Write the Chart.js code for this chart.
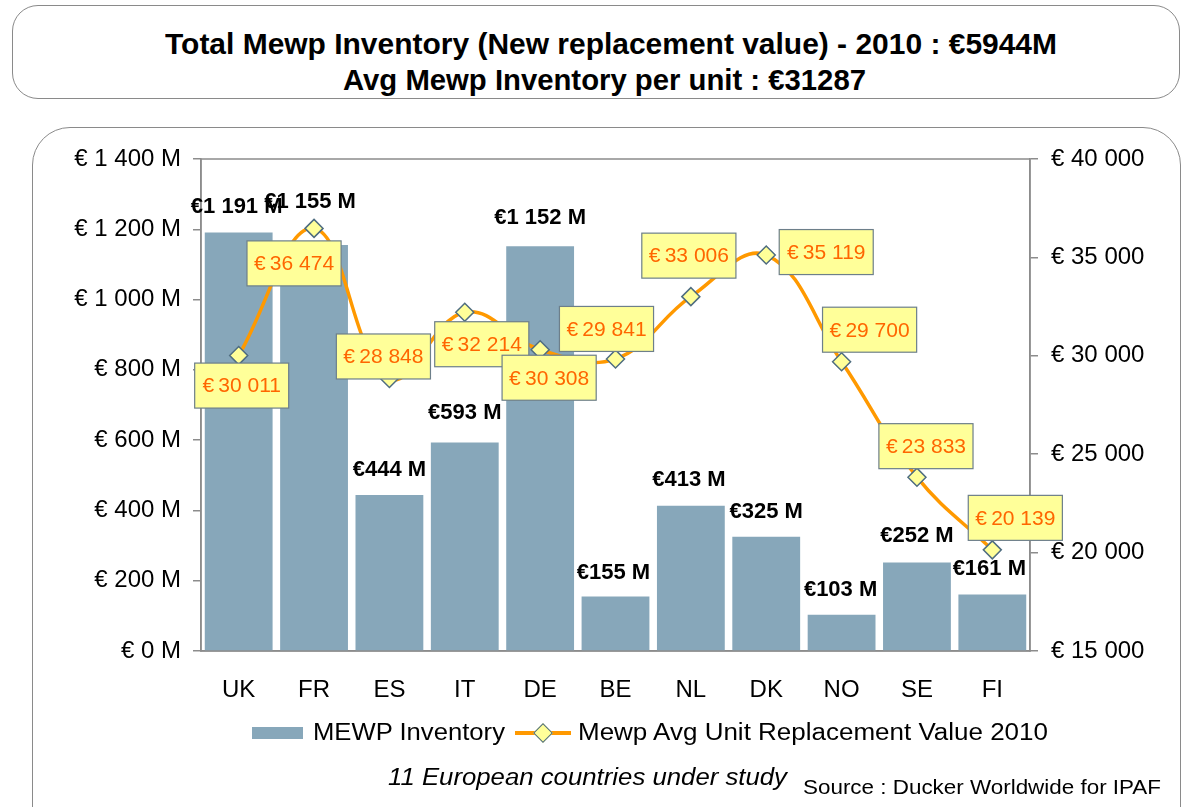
<!DOCTYPE html>
<html>
<head>
<meta charset="utf-8">
<script src="https://cdn.jsdelivr.net/npm/chart.js@4/dist/chart.umd.min.js"></script>
<style>
  html, body { margin: 0; padding: 0; background: #fff; }
  body { width: 1182px; height: 807px; position: relative; overflow: hidden; font-family: "Liberation Sans", Arial, sans-serif; }
  .box { position: absolute; border: 1.5px solid #8a8a8a; background: #fff; box-sizing: border-box; }
  #titleBox { left: 12px; top: 5px; width: 1168px; height: 94px; border-radius: 26px; }
  #chartBox { left: 32px; top: 127px; width: 1149px; height: 720px; border-radius: 38px; }
  .tline { position: absolute; white-space: nowrap; font-weight: bold; color: #000; }
  .fit { display: inline-block; transform-origin: left center; white-space: nowrap; }
  #t1 { top: 27px; left: 165px; font-size: 30px; }
  #t2 { top: 63px; left: 343px; font-size: 30px; }
  canvas { position: absolute; left: 0; top: 0; }
  .leg { position: absolute; font-size: 23px; color: #000; white-space: nowrap; top: 719px; }
  .sw-bar { position: absolute; left: 252px; top: 727px; width: 51px; height: 12px; background: #87A7BA; }
  .sw-line { position: absolute; left: 515px; top: 723px; width: 56px; height: 20px; }
  .sw-line .ln { position: absolute; left: 0; top: 8px; width: 56px; height: 4px; background: #FF9900; }
  .sw-line .dm { position: absolute; left: 21px; top: 3px; width: 12px; height: 12px; background: #FFFF99; border: 1.5px solid #4F6D80; transform: rotate(45deg); }
  #foot1 { position: absolute; top: 764px; left: 388px; font-size: 23px; font-style: italic; white-space: nowrap; }
  #foot2 { position: absolute; top: 776px; left: 803px; font-size: 20px; white-space: nowrap; }
</style>
</head>
<body>
<div class="box" id="titleBox"></div>
<div class="box" id="chartBox"></div>
<div class="tline" id="t1"><span class="fit" data-w="892">Total Mewp Inventory (New replacement value) - 2010 : €5944M</span></div>
<div class="tline" id="t2"><span class="fit" data-w="523">Avg Mewp Inventory per unit : €31287</span></div>
<canvas id="c" width="1182" height="807"></canvas>
<span class="sw-bar"></span>
<span class="leg" style="left:313px"><span class="fit" data-w="192" id="leg1"></span></span>
<span class="sw-line"><span class="ln"></span><span class="dm"></span></span>
<span class="leg" style="left:578px"><span class="fit" data-w="470" id="leg2"></span></span>
<div id="foot1"><span class="fit" data-w="399">11 European countries under study</span></div>
<div id="foot2"><span class="fit" data-w="358">Source : Ducker Worldwide for IPAF</span></div>
<script>
// ---- data ----
const countries = ['UK', 'FR', 'ES', 'IT', 'DE', 'BE', 'NL', 'DK', 'NO', 'SE', 'FI'];
const inventoryM = [1191, 1155, 444, 593, 1152, 155, 413, 325, 103, 252, 161];
const avgUnitValue = [30011, 36474, 28848, 32214, 30308, 29841, 33006, 35119, 29700, 23833, 20139];
const leftTicks = [0, 200, 400, 600, 800, 1000, 1200, 1400];
const rightTicks = [15000, 20000, 25000, 30000, 35000, 40000];
const seriesNames = ['MEWP Inventory', 'Mewp Avg Unit Replacement Value 2010'];

// ---- label placement (layout only) ----
const barLabelShift = [[-2, -26], [-4, -43], [0, -25], [0, -30], [0, -28], [-2, -24], [-2, -26], [0, -25], [-1, -25], [0, -27], [-3, -25]];
const lineLabelShift = [[3, 30], [-20, 35], [-6, -22], [17, 32], [9, 28], [-9, -30], [-2, -41], [60, -3], [28, -32], [9, -31], [23, -32]];

function grp(v) { return String(v).replace(/\B(?=(\d{3})+(?!\d))/g, ' '); }

document.getElementById('leg1').textContent = seriesNames[0];
document.getElementById('leg2').textContent = seriesNames[1];

// fit HTML text widths to the reference
document.querySelectorAll('.fit').forEach(s => {
  const w = s.getBoundingClientRect().width;
  s.style.transform = 'scaleX(' + (parseFloat(s.dataset.w) / w) + ')';
});

const FONT = '"Liberation Sans", Arial, sans-serif';

const frame = {
  id: 'frame',
  beforeDatasetsDraw(chart) {
    const a = chart.chartArea, ctx = chart.ctx;
    ctx.save();
    ctx.strokeStyle = '#8c8c8c';
    ctx.lineWidth = 1.5;
    ctx.strokeRect(a.left, a.top, a.right - a.left, a.bottom - a.top);
    ctx.restore();
  },
  afterDatasetsDraw(chart) {
    const ctx = chart.ctx;
    ctx.save();
    const barMeta = chart.getDatasetMeta(1);
    ctx.font = 'bold 22px ' + FONT;
    ctx.fillStyle = '#000';
    ctx.textAlign = 'center';
    ctx.textBaseline = 'middle';
    barMeta.data.forEach((el, i) => {
      const t = '€' + grp(inventoryM[i]) + ' M';
      ctx.fillText(t, el.x + barLabelShift[i][0], el.y + barLabelShift[i][1]);
    });
    const lineMeta = chart.getDatasetMeta(0);
    ctx.font = '21px ' + FONT;
    lineMeta.data.forEach((el, i) => {
      const t = '€\u2009' + grp(avgUnitValue[i]);
      const tw = ctx.measureText(t).width;
      const w = Math.max(94, tw + 14), h = 45;
      const cx = el.x + lineLabelShift[i][0], cy = el.y + lineLabelShift[i][1];
      ctx.fillStyle = '#FFFF99';
      ctx.fillRect(cx - w / 2, cy - h / 2, w, h);
      ctx.strokeStyle = '#6d7f8a';
      ctx.lineWidth = 1.2;
      ctx.strokeRect(cx - w / 2, cy - h / 2, w, h);
      ctx.fillStyle = '#FF6600';
      ctx.fillText(t, cx, cy + 1);
    });
    ctx.restore();
  }
};

new Chart(document.getElementById('c'), {
  data: {
    labels: countries,
    datasets: [
      {
        type: 'line', label: seriesNames[1], data: avgUnitValue, yAxisID: 'y2', order: 0,
        borderColor: '#FF9900', borderWidth: 3.5, tension: 0.4, fill: false,
        pointStyle: 'rectRot', pointRadius: 9, pointHoverRadius: 9,
        pointBackgroundColor: '#FFFF99', pointBorderColor: '#4F6D80', pointBorderWidth: 1.5
      },
      {
        type: 'bar', label: seriesNames[0], data: inventoryM, yAxisID: 'y', order: 1,
        backgroundColor: '#87A7BA', barPercentage: 0.9, categoryPercentage: 1.0
      }
    ]
  },
  options: {
    responsive: false, animation: false,
    layout: { padding: { left: 0, right: 0, top: 159, bottom: 86 } },
    plugins: { legend: { display: false }, tooltip: { enabled: false }, title: { display: false } },
    scales: {
      x: {
        grid: { display: false },
        border: { display: true, color: '#8c8c8c', width: 1.5 },
        ticks: { color: '#000', font: { size: 24, family: FONT }, padding: 17 },
        afterFit(s) { s.height = 70; }
      },
      y: {
        position: 'left', min: 0, max: 1400,
        afterBuildTicks(s) { s.ticks = leftTicks.map(v => ({ value: v })); },
        grid: { drawOnChartArea: false, tickLength: 8, color: '#8c8c8c', lineWidth: 1.5 },
        border: { display: true, color: '#8c8c8c', width: 1.5 },
        ticks: { color: '#000', padding: 12, font: { size: 24, family: FONT },
          callback: v => '€ ' + grp(v) + ' M' },
        afterFit(s) { s.width = 201; }
      },
      y2: {
        position: 'right', min: 15000, max: 40000,
        afterBuildTicks(s) { s.ticks = rightTicks.map(v => ({ value: v })); },
        grid: { drawOnChartArea: false, tickLength: 8, color: '#8c8c8c', lineWidth: 1.5 },
        border: { display: true, color: '#8c8c8c', width: 1.5 },
        ticks: { color: '#000', padding: 13, font: { size: 24, family: FONT },
          callback: v => '€ ' + grp(v) },
        afterFit(s) { s.width = 152; }
      }
    }
  },
  plugins: [frame]
});
</script>
</body>
</html>
